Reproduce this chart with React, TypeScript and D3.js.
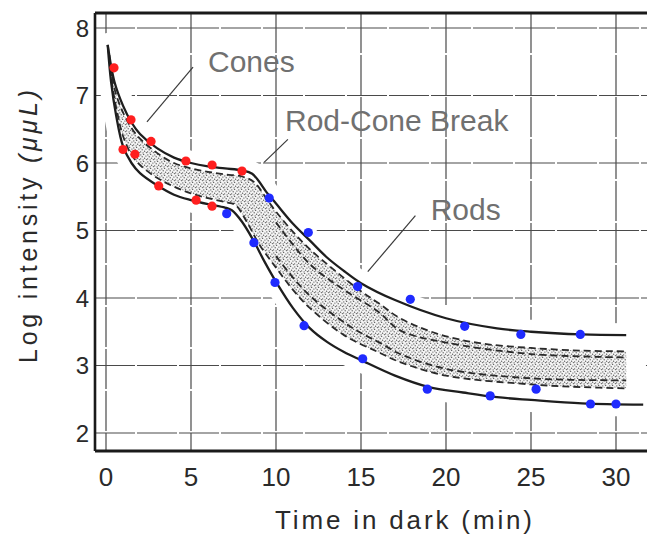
import React from "react";
import * as d3 from "d3";

type P = [number, number];

const xTicks = [0, 5, 10, 15, 20, 25, 30];
const yTicks = [2, 3, 4, 5, 6, 7, 8];

// cone thresholds (red) and rod thresholds (blue): [minutes, log intensity]
const conePoints: P[] = [
  [0.47, 7.41], [1.47, 6.64], [2.65, 6.32], [1.0, 6.2], [1.7, 6.13], [3.1, 5.66],
  [4.7, 6.03], [6.24, 5.97], [8.0, 5.88], [5.3, 5.45], [6.24, 5.36],
];
const rodPoints: P[] = [
  [7.1, 5.25], [9.6, 5.48], [11.9, 4.97], [8.7, 4.82], [9.94, 4.23], [11.65, 3.59],
  [14.8, 4.17], [17.9, 3.98], [21.1, 3.58], [24.4, 3.46], [27.9, 3.46], [15.1, 3.1],
  [18.9, 2.65], [22.6, 2.55], [25.3, 2.65], [28.5, 2.43], [30.0, 2.43],
];

// solid envelope curves
const upperSolid: P[] = [
  [0.1, 7.75], [0.5, 7.2], [1, 6.85], [1.5, 6.6], [2, 6.43], [3, 6.22], [4, 6.08],
  [5, 6.0], [6, 5.95], [7, 5.92], [8, 5.89], [8.6, 5.84], [9.5, 5.55], [10, 5.4],
  [11, 5.1], [12, 4.85], [13, 4.6], [14, 4.4], [15, 4.22], [17, 3.97], [20, 3.7],
  [23, 3.55], [25, 3.5], [28, 3.46], [30.6, 3.45],
];
const lowerSolid: P[] = [
  [0.1, 7.75], [0.3, 7.2], [0.6, 6.7], [1.0, 6.25], [1.5, 6.0], [2, 5.85], [3, 5.67],
  [4, 5.53], [5, 5.45], [6, 5.39], [7, 5.34], [7.4, 5.3], [8, 5.13], [8.7, 4.84],
  [9.3, 4.55], [10, 4.24], [11, 3.85], [12, 3.55], [13, 3.35], [14, 3.2], [15, 3.08],
  [17, 2.85], [19, 2.68], [21, 2.6], [23, 2.53], [25, 2.49], [28, 2.44], [31.6, 2.42],
];

// dashed curves bounding the stippled band
const upperDashed: P[] = [
  [0.2, 7.6], [0.5, 7.1], [1, 6.75], [1.5, 6.52], [2, 6.36], [3, 6.15], [4, 6.0],
  [5, 5.92], [6, 5.87], [7, 5.83], [8, 5.8], [8.7, 5.72], [9.5, 5.45], [10, 5.28],
  [11, 4.98], [12, 4.72], [13.4, 4.42], [15, 4.1], [16, 3.93], [17.3, 3.7],
  [19.5, 3.47], [22, 3.33], [25, 3.26], [28, 3.22], [30.6, 3.21],
];
const lowerDashed: P[] = [
  [0.2, 7.55], [0.4, 7.1], [0.7, 6.7], [1.0, 6.4], [1.5, 6.12], [2, 5.97], [3, 5.78],
  [4, 5.65], [5, 5.55], [6, 5.48], [7, 5.42], [7.6, 5.38], [8.3, 5.12], [9, 4.8],
  [10, 4.45], [11, 4.12], [12, 3.85], [14, 3.45], [16, 3.2], [17.3, 3.05], [20, 2.85],
  [25, 2.72], [28, 2.68], [30.6, 2.66],
];
const innerUpperDashed: P[] = [
  [10, 5.12], [12, 4.5], [14, 4.12], [16, 3.8], [17.3, 3.52], [20, 3.34], [25, 3.17], [30.6, 3.12],
];
const innerLowerDashed: P[] = [
  [10, 4.62], [11.8, 4.08], [14.35, 3.58], [16.3, 3.31], [17.3, 3.17], [20, 2.95], [25, 2.81], [30.6, 2.78],
];

// annotations: label anchor and leader line ends, in data units
const annotations = [
  { text: "Cones", at: [6.0, 7.35] as P, from: [5.12, 7.42] as P, to: [2.41, 6.61] as P },
  { text: "Rod-Cone Break", at: [10.53, 6.47] as P, from: [10.7, 6.35] as P, to: [9.3, 6.01] as P },
  { text: "Rods", at: [19.1, 5.15] as P, from: [18.2, 5.22] as P, to: [15.4, 4.39] as P },
];

const xLabel = "Time in dark (min)";
const yLabelMain = "Log intensity ";
const yLabelUnit = "(μμL)";

export default function App() {
  const W = 647, H = 538;
  const frameL = 95, frameT = 13, frameB = 451;
  const x = d3.scaleLinear().domain([0, 30]).range([106, 616]);
  const y = d3.scaleLinear().domain([2, 8]).range([433, 28]);

  const line = d3.line<P>().x(d => x(d[0])).y(d => y(d[1])).curve(d3.curveCatmullRom.alpha(0.5));
  const closed = (a: P[], b: P[]) =>
    (line(a) as string) + (line([...b].reverse()) as string).replace(/^M/, "L") + "Z";

  const maskPath = closed(upperSolid, lowerSolid);
  const bandPath = closed(upperDashed, lowerDashed);

  const dots: [number, number][] = [
    [0.8, 0.9], [3.6, 0.4], [5.9, 2.1], [2.2, 2.8], [4.6, 4.3], [0.6, 4.9], [3.1, 5.9], [6.4, 5.6],
  ];

  const sans = "'Liberation Sans', Arial, sans-serif";

  return (
    <svg width={W} height={H} style={{ position: "absolute", left: 0, top: 0, background: "#fff" }}>
      <defs>
        <pattern id="stip" width={7} height={7} patternUnits="userSpaceOnUse">
          <rect width={7} height={7} fill="#f4f4f4" />
          {dots.map((d, i) => (
            <circle key={i} cx={d[0]} cy={d[1]} r={0.7} fill="#666" />
          ))}
        </pattern>
      </defs>
      <rect width={W} height={H} fill="#fff" />

      {/* grid */}
      {xTicks.map(t => (
        <line key={"gx" + t} x1={x(t)} x2={x(t)} y1={frameT} y2={frameB} stroke="#4a4a4a" strokeWidth={1.2} strokeDasharray="40,2" />
      ))}
      {yTicks.map(v => (
        <line key={"gy" + v} x1={frameL} x2={W} y1={y(v)} y2={y(v)} stroke="#4a4a4a" strokeWidth={1.2} strokeDasharray="40,2" />
      ))}

      {/* white clearing around the curves */}
      <path d={maskPath} fill="#fff" stroke="#fff" strokeWidth={24} strokeLinejoin="round" />

      {/* stippled band */}
      <path d={bandPath} fill="url(#stip)" stroke="none" />

      {/* dashed curves */}
      {[upperDashed, lowerDashed, innerUpperDashed, innerLowerDashed].map((c, i) => (
        <path key={"d" + i} d={line(c) as string} fill="none" stroke="#2a2a2a" strokeWidth={1.8} strokeDasharray="7,4" />
      ))}

      {/* solid curves */}
      {[upperSolid, lowerSolid].map((c, i) => (
        <path key={"s" + i} d={line(c) as string} fill="none" stroke="#1e1e1e" strokeWidth={2.3} />
      ))}

      {/* frame */}
      <line x1={frameL} x2={frameL} y1={frameT} y2={frameB} stroke="#1a1a1a" strokeWidth={2.6} />
      <line x1={frameL} x2={W} y1={frameT} y2={frameT} stroke="#1a1a1a" strokeWidth={2.8} />
      <line x1={frameL} x2={W} y1={frameB} y2={frameB} stroke="#1a1a1a" strokeWidth={2.8} />

      {/* points */}
      {conePoints.map((p, i) => (
        <circle key={"c" + i} cx={x(p[0])} cy={y(p[1])} r={4.6} fill="#ff1f1f" />
      ))}
      {rodPoints.map((p, i) => (
        <circle key={"r" + i} cx={x(p[0])} cy={y(p[1])} r={4.6} fill="#1f2bff" />
      ))}

      {/* annotations */}
      {annotations.map((a, i) => (
        <g key={"a" + i}>
          <line x1={x(a.from[0])} y1={y(a.from[1])} x2={x(a.to[0])} y2={y(a.to[1])} stroke="#3a3a3a" strokeWidth={1.2} />
          <text x={x(a.at[0])} y={y(a.at[1])} fontFamily={sans} fontSize={30} fill="#707070">
            {a.text}
          </text>
        </g>
      ))}

      {/* tick labels */}
      {yTicks.map(v => (
        <text key={"ty" + v} x={89} y={y(v)} dy="0.36em" textAnchor="end" fontFamily={sans} fontSize={24} fill="#2a2a2a">
          {v}
        </text>
      ))}
      {xTicks.map(t => (
        <text key={"tx" + t} x={x(t)} y={486} textAnchor="middle" fontFamily={sans} fontSize={26} fill="#2a2a2a">
          {t}
        </text>
      ))}

      {/* axis titles */}
      <text x={275} y={529} fontFamily={sans} fontSize={26} fill="#2a2a2a" textLength={257} lengthAdjust="spacing">
        {xLabel}
      </text>
      <text
        transform="translate(37,363) rotate(-90)"
        fontFamily={sans}
        fontSize={25}
        fill="#2a2a2a"
        textLength={273}
        lengthAdjust="spacing"
      >
        {yLabelMain}
        <tspan fontStyle="italic">{yLabelUnit}</tspan>
      </text>
    </svg>
  );
}
